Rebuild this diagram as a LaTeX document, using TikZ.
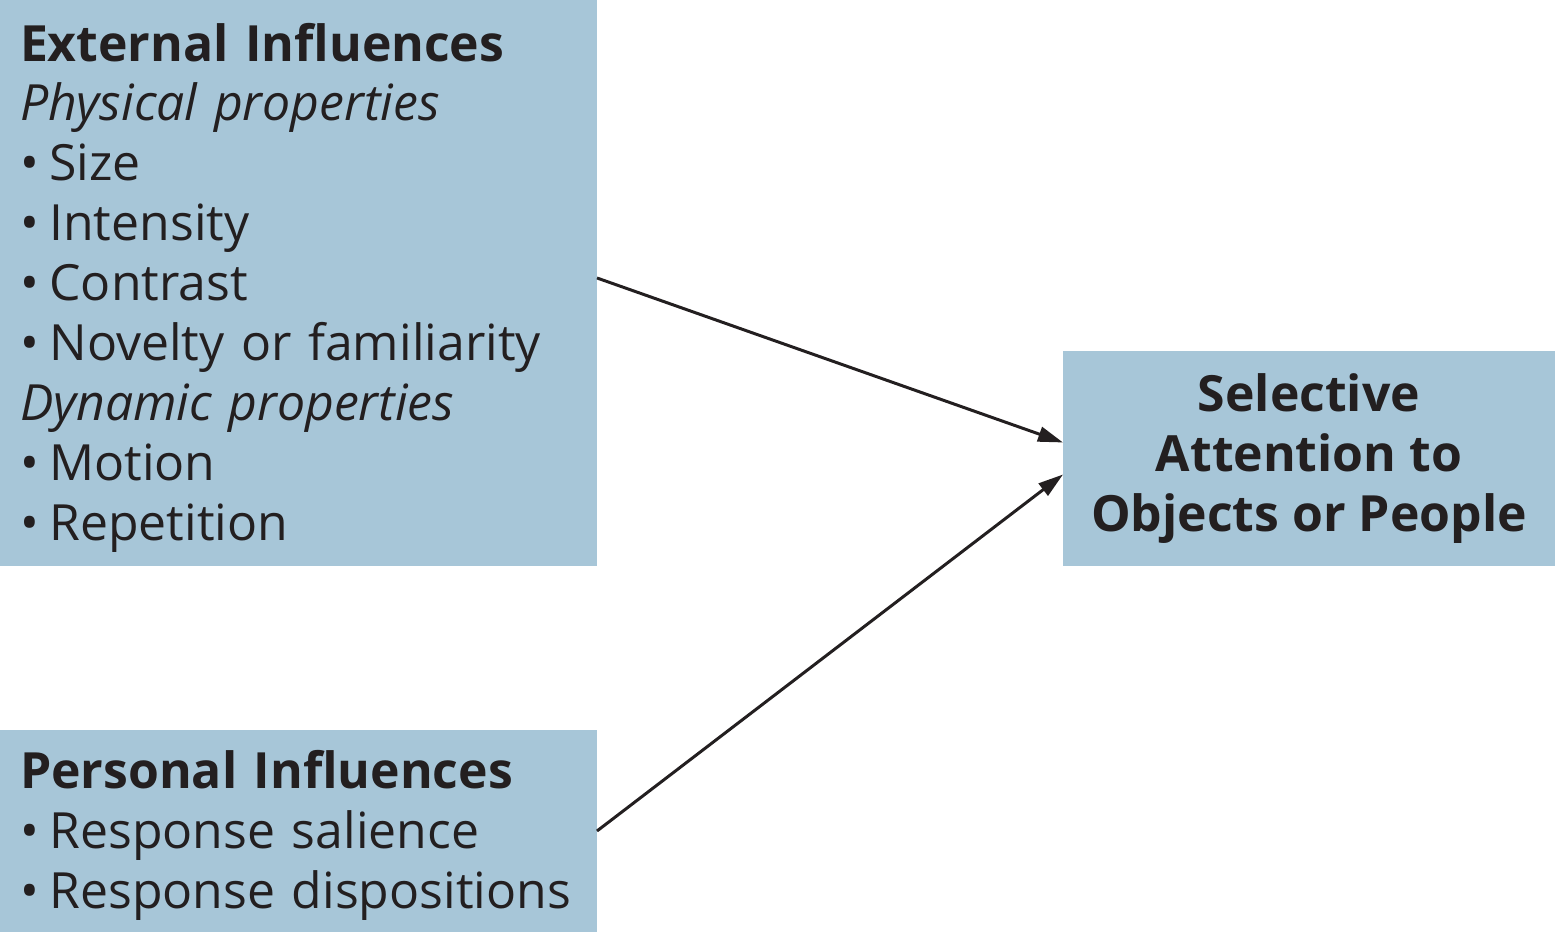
\documentclass[tikz,border=0pt]{standalone}
\usepackage{fontspec}
\setmainfont{Open Sans}
\usepackage{tikz}
\usetikzlibrary{positioning, arrows.meta}
\definecolor{boxblue}{HTML}{A7C6D8}
\definecolor{ink}{HTML}{231F20}
\newcommand{\itm}{•\kern-0.12em\ }
\newcommand{\toprule}{\rule{0pt}{0.95cm}}

\begin{document}
\begin{tikzpicture}[
            font = \fontsize{28.4}{34.1}\selectfont,
            box/.style = {fill=boxblue, text=ink, inner sep=0pt, outer sep=0pt},
            leftbox/.style = {box, align=left, text width=11.14cm, minimum width=11.94cm},
            line/.style = {draw=ink, line width=1.7pt, -{Triangle[length=0.5cm, width=0.3cm]}},
            ]
            \useasboundingbox (0,0) rectangle (31.1,18.68);
            \node[leftbox, minimum height=11.32cm, anchor=north west] (ext) at (0,18.68)
                {\toprule\textbf{External Influences}\\ \textit{Physical properties}\\
                 \itm Size\\ \itm Intensity\\ \itm Contrast\\ \itm Novelty or familiarity\\
                 \textit{Dynamic properties}\\ \itm Motion\\ \itm Repetition};
            \node[leftbox, minimum height=4.04cm, anchor=south west] (pers) at (0,0.04)
                {\toprule\textbf{Personal Influences}\\ \itm Response salience\\ \itm Response dispositions};
            \node[box, align=center, font=\fontsize{28.4}{34.1}\selectfont\bfseries,
                  minimum width=9.84cm, minimum height=4.3cm, anchor=south east] (sel) at (31.1,7.36)
                {Selective\\ Attention to\\ Objects or People};

            \draw[line] ([yshift=0.1cm]ext.east) -- ([yshift=0.32cm]sel.west);
            \draw[line] (pers.east) -- ([yshift=-0.32cm]sel.west);
        \end{tikzpicture}
\end{document}
